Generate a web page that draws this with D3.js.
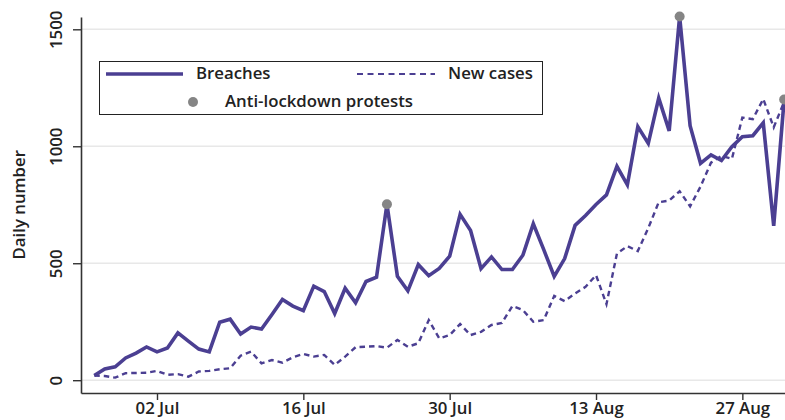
<!DOCTYPE html>
<html>
<head>
<meta charset="utf-8">
<script src="https://cdn.jsdelivr.net/npm/d3@7"></script>
<style>
  html, body { margin: 0; padding: 0; background: #fff; }
  svg { display: block; font-family: "Open Sans", sans-serif; }
</style>
</head>
<body>
<svg id="chart" width="785" height="420"></svg>
<script>
// ---- data (daily, 26 Jun 2020 .. 31 Aug 2020) ----
const startDate = "2020-06-26";
const breaches = [20, 48, 57, 95, 116, 142, 121, 138, 202, 167, 133, 121, 248, 261, 197, 227,
  219, 281, 345, 317, 297, 402, 379, 285, 393, 331, 422, 440, 752, 444, 382, 494, 447,
  478, 530, 709, 640, 477, 527, 473, 473, 534, 669, 558, 444, 520, 662, 704, 751, 792,
  914, 835, 1084, 1012, 1206, 1066, 1555, 1088, 927, 963, 939, 998, 1041, 1045, 1100, 660, 1200];
const newCases = [20, 18, 11, 30, 31, 32, 40, 23, 26, 15, 37, 40, 47, 51, 105, 122,
  72, 86, 75, 98, 112, 101, 108, 65, 101, 141, 143, 146, 139, 172, 143, 158, 257,
  179, 193, 240, 193, 207, 236, 245, 317, 300, 250, 257, 360, 338, 371, 399, 449, 325,
  541, 573, 552, 650, 761, 768, 808, 743, 828, 930, 959, 946, 1123, 1116, 1202, 1081, 1190];
const protestDates = ["2020-07-24", "2020-08-21", "2020-08-31"];
const yTicks = [0, 500, 1000, 1500];
const xTickDates = ["2020-07-02", "2020-07-16", "2020-07-30", "2020-08-13", "2020-08-27"];
const xTickLabels = ["02 Jul", "16 Jul", "30 Jul", "13 Aug", "27 Aug"];
const seriesNames = ["Breaches", "New cases"];
const protestName = "Anti-lockdown protests";
const yTitle = "Daily number";

(function () {
const DAY = 864e5;
const parse = d3.utcParse("%Y-%m-%d");
const t0 = parse(startDate);
const dates = breaches.map((_, i) => new Date(t0.getTime() + i * DAY));
const rows = dates.map((d, i) => ({ date: d, breaches: breaches[i], cases: newCases[i] }));

const color = "#4b3f92";
const fs = 16.8;
const svg = d3.select("#chart");
const pl = 81, pr = 785, pt = 17, pb = 393;

const x = d3.scaleUtc()
  .domain([new Date(t0.getTime() - 1.27 * DAY), new Date(dates[dates.length - 1].getTime() + 0.08 * DAY)])
  .range([pl, pr]);
const y = d3.scaleLinear().domain([-54.7, 1552.6]).range([pb, pt]);

// gridlines
svg.append("g").selectAll("line").data(yTicks).join("line")
  .attr("x1", pl).attr("x2", pr)
  .attr("y1", d => y(d)).attr("y2", d => y(d))
  .attr("stroke", "#e8e8e8").attr("stroke-width", 1.5);

// lines
const lineB = d3.line().x(d => x(d.date)).y(d => y(d.breaches));
const lineC = d3.line().x(d => x(d.date)).y(d => y(d.cases));
svg.append("path").datum(rows).attr("d", lineC)
  .attr("fill", "none").attr("stroke", color).attr("stroke-width", 2.4)
  .attr("stroke-dasharray", "5.5,4");
svg.append("path").datum(rows).attr("d", lineB)
  .attr("fill", "none").attr("stroke", color).attr("stroke-width", 3.6)
  .attr("stroke-linejoin", "miter");

// protest dots
const protests = protestDates.map(s => {
  const d = parse(s);
  const r = rows.find(r => r.date.getTime() === d.getTime());
  return { date: d, v: r.breaches };
});
svg.append("g").selectAll("circle").data(protests).join("circle")
  .attr("cx", d => x(d.date)).attr("cy", d => y(d.v)).attr("r", 5)
  .attr("fill", "#858585");

// axes
const xAxis = d3.axisBottom(x)
  .tickValues(xTickDates.map(parse))
  .tickFormat((d, i) => xTickLabels[i])
  .tickSize(7).tickSizeOuter(0);
const gx = svg.append("g").attr("transform", `translate(0,${pb})`).call(xAxis);
gx.select(".domain").attr("stroke", "#333").attr("stroke-width", 1.6);
gx.selectAll(".tick line").attr("stroke", "#333").attr("stroke-width", 1.4);
gx.selectAll(".tick text").attr("fill", "#222").attr("font-size", fs).attr("font-weight", 600)
  .attr("font-family", "Open Sans").attr("y", 9.5).attr("dy", "0.71em");

const yAxis = d3.axisLeft(y).tickValues(yTicks).tickFormat(d3.format("d"))
  .tickSize(8).tickSizeOuter(0);
const gy = svg.append("g").attr("transform", `translate(${pl},0)`).call(yAxis);
gy.select(".domain").attr("stroke", "#333").attr("stroke-width", 1.6);
gy.selectAll(".tick line").attr("stroke", "#333").attr("stroke-width", 1.4);
gy.selectAll(".tick text")
  .attr("fill", "#222").attr("font-size", fs).attr("font-weight", 600).attr("font-family", "Open Sans")
  .attr("x", null).attr("dy", null)
  .attr("text-anchor", "middle")
  .attr("transform", "translate(-19,0) rotate(-90)");

// y title
svg.append("text")
  .attr("transform", `translate(24.5,${(y(0) + y(1500)) / 2}) rotate(-90)`)
  .attr("text-anchor", "middle").attr("fill", "#222")
  .attr("font-size", fs).attr("font-weight", 600)
  .text(yTitle);

// legend
const lg = svg.append("g");
lg.append("rect").attr("x", 99.5).attr("y", 61.5).attr("width", 443).attr("height", 53)
  .attr("fill", "#fff").attr("stroke", "#222").attr("stroke-width", 1);
lg.append("line").attr("x1", 106).attr("x2", 183).attr("y1", 74).attr("y2", 74)
  .attr("stroke", color).attr("stroke-width", 3.6);
lg.append("line").attr("x1", 357).attr("x2", 435).attr("y1", 74).attr("y2", 74)
  .attr("stroke", color).attr("stroke-width", 2.2).attr("stroke-dasharray", "6,4.5");
lg.append("circle").attr("cx", 193).attr("cy", 102).attr("r", 5).attr("fill", "#858585");
const legText = [
  { t: seriesNames[0], x: 196, y: 73.5 },
  { t: seriesNames[1], x: 448, y: 73.5 },
  { t: protestName, x: 225, y: 101.5 }
];
lg.selectAll("text").data(legText).join("text")
  .attr("x", d => d.x).attr("y", d => d.y).attr("dy", "0.35em")
  .attr("fill", "#222").attr("font-size", fs).attr("font-weight", 600)
  .text(d => d.t);
})();
</script>
</body>
</html>
